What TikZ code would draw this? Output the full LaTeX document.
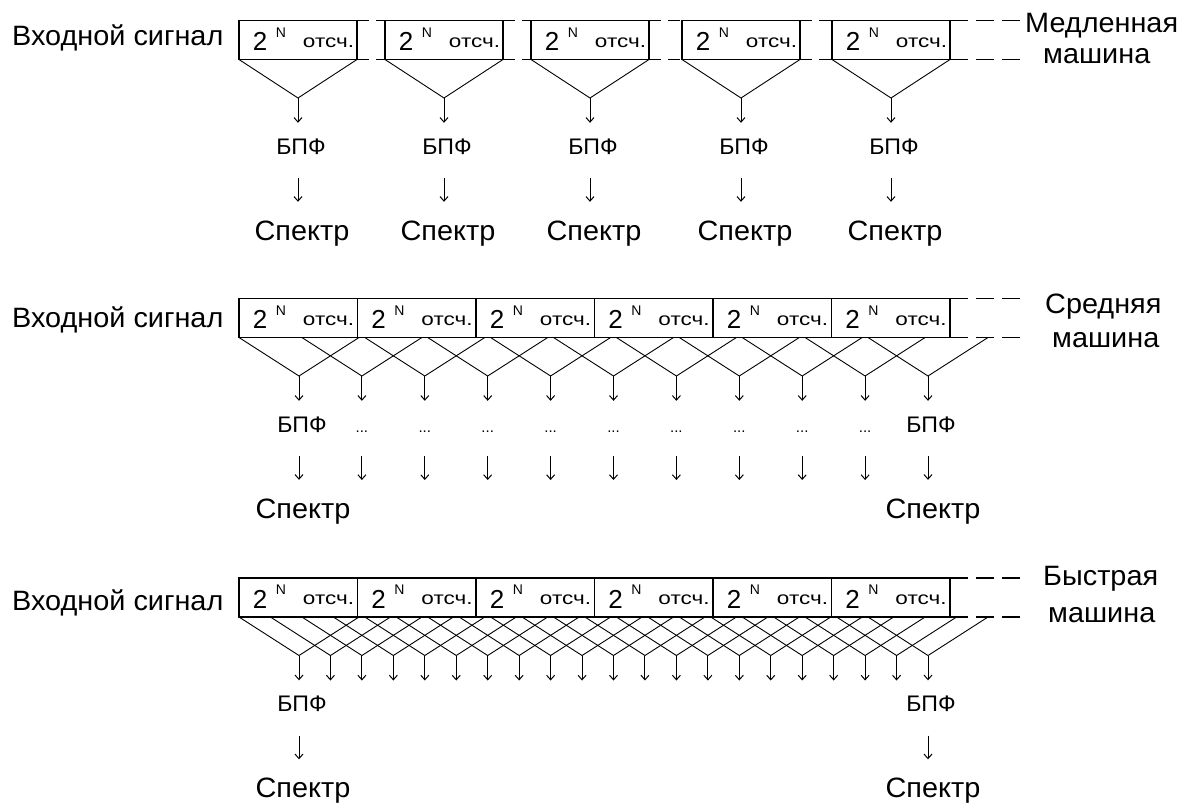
\documentclass[tikz,border=0pt]{standalone}
\usepackage{fontspec}
\setmainfont{Liberation Sans}
\newfontfamily\wfont[FakeStretch=1.03]{Liberation Sans}
\newfontfamily\xfont[FakeStretch=1.25]{Liberation Sans}
\usetikzlibrary{arrows.meta}

\tikzset{
  sbox/.style={draw, line width=1.6pt, inner sep=0, outer sep=0, minimum height=39pt, anchor=north west},
  vline/.style={line width=0.9pt},
  arr/.style={line width=1pt, -{Straight Barb[length=4.5pt,width=8pt]}},
  ext/.style={line width=1.6pt, dash pattern=on 18pt off 8pt},
  gapdash/.style={line width=1.6pt, dash pattern=on 12pt off 7pt},
  big/.style={font=\wfont\fontsize{28}{32}\selectfont, inner sep=0, anchor=base west},
  fft/.style={font=\wfont\fontsize{22.5}{26}\selectfont, inner sep=0, text height=16pt, text depth=0pt, anchor=base},
  dotsn/.style={font=\fontsize{15}{17}\selectfont, inner sep=0, text height=16pt, text depth=0pt, anchor=base},
  spec/.style={font=\wfont\fontsize{28}{32}\selectfont, inner sep=0, text height=20pt, text depth=5pt, anchor=base},
  two/.style={font=\fontsize{26}{30}\selectfont, inner sep=0, anchor=base},
  supN/.style={font=\fontsize{14}{16}\selectfont, inner sep=0, anchor=base},
  cnt/.style={font=\xfont\fontsize{18}{21}\selectfont, inner sep=0, anchor=base},
}

\newcommand\sampbox[4]{%
  \node[sbox, minimum width=#4pt] (#1) at (#2,#3) {};
  \node[two] (#1-d) at (#2+21,#3+30) {2};
  \node[supN] (#1-n) at (#2+42,#3+16.5) {N};
  \node[cnt] (#1-t) at (#2+89.5,#3+26.5) {отсч.};
}

\begin{document}
\begin{tikzpicture}[x=1pt,y=-1pt]
\useasboundingbox (0,0) rectangle (1189,804);

% ================= Row 1 : slow =================
\node[big] (in1) at (12,45) {Входной сигнал};
\foreach \i/\x in {1/239,2/385,3/531,4/682,5/832}{
  \sampbox{b1-\i}{\x}{20.5}{118}
  \coordinate (a1-\i) at (\x+59,98);
  \draw[vline] (b1-\i.south west) -- (a1-\i) -- (b1-\i.south east);
  \node[fft] (f1-\i) at (\x+62,154) {БПФ};
  \node[spec] (s1-\i) at (\x+63,240) {Спектр};
  \draw[arr, shorten >=15pt] (a1-\i) -- (f1-\i.north -| a1-\i);
  \draw[arr, shorten <=24pt, shorten >=18pt] (f1-\i.south -| a1-\i) -- (s1-\i.north -| a1-\i);
}
\foreach \i/\j in {1/2,2/3,3/4,4/5}{
  \draw[gapdash] (b1-\i.north east) -- (b1-\j.north west);
  \draw[gapdash] (b1-\i.south east) -- (b1-\j.south west);
}
\coordinate (e1t) at (1020,20.5);
\coordinate (e1b) at (1020,59.5);
\draw[ext] (b1-5.north east) -- (e1t);
\draw[ext] (b1-5.south east) -- (e1b);
\node[big] (m1a) at (1025,32.5) {Медленная};
\node[big] (m1b) at (1043,63) {машина};

% ================= Row 2 : medium =================
\node[big] (in2) at (12,327) {Входной сигнал};
\foreach \i in {0,...,5}{
  \sampbox{b2-\i}{239+118.5*\i}{298.5}{118.5}
}
\coordinate (e2t) at (1020,298.5);
\coordinate (e2b) at (1020,337.5);
\draw[ext] (b2-5.north east) -- (e2t);
\draw[ext] (b2-5.south east) -- (e2b);
\node[big] (m2a) at (1045,313) {Средняя};
\node[big] (m2b) at (1052,347) {машина};
\foreach \k in {0,...,10}{
  \coordinate (a2-\k) at (299+62.9*\k,376);
  \coordinate (l2-\k) at (239+62.9*\k,337.5);
  \coordinate (r2-\k) at (359+62.9*\k,337.5);
  \draw[vline] (l2-\k) -- (a2-\k) -- (r2-\k);
}
\node[fft] (f2-0) at (302,432) {БПФ};
\node[fft] (f2-10) at (931,432) {БПФ};
\foreach \k in {1,...,9}{
  \node[dotsn] (f2-\k) at (299+62.9*\k,432) {...};
  \coordinate (c2-\k) at (299+62.9*\k,498);
  \draw[arr, shorten >=15pt] (a2-\k) -- (f2-\k.north -| a2-\k);
  \draw[arr, shorten <=24pt, shorten >=18pt] (f2-\k.south -| a2-\k) -- (c2-\k);
}
\node[spec] (s2-0) at (303,518) {Спектр};
\node[spec] (s2-10) at (933,518) {Спектр};
\foreach \k in {0,10}{
  \draw[arr, shorten >=15pt] (a2-\k) -- (f2-\k.north -| a2-\k);
  \draw[arr, shorten <=24pt, shorten >=18pt] (f2-\k.south -| a2-\k) -- (s2-\k.north -| a2-\k);
}

% ================= Row 3 : fast =================
\node[big] (in3) at (12,610) {Входной сигнал};
\foreach \i in {0,...,5}{
  \sampbox{b3-\i}{239+118.5*\i}{578}{118.5}
}
\coordinate (e3t) at (1020,578);
\coordinate (e3b) at (1020,617);
\draw[ext] (b3-5.north east) -- (e3t);
\draw[ext] (b3-5.south east) -- (e3b);
\node[big] (m3a) at (1043,585) {Быстрая};
\node[big] (m3b) at (1048,622) {машина};
\foreach \k in {0,...,20}{
  \coordinate (a3-\k) at (299+31.45*\k,655.5);
  \coordinate (l3-\k) at (239+31.45*\k,617);
  \coordinate (r3-\k) at (359+31.45*\k,617);
  \draw[vline] (l3-\k) -- (a3-\k) -- (r3-\k);
}
\foreach \k in {1,...,19}{
  \coordinate (t3-\k) at (299+31.45*\k,680.5);
  \draw[arr] (a3-\k) -- (t3-\k);
}
\node[fft] (f3-0) at (302,711.5) {БПФ};
\node[fft] (f3-20) at (931,711.5) {БПФ};
\node[spec] (s3-0) at (303,797.5) {Спектр};
\node[spec] (s3-20) at (933,797.5) {Спектр};
\foreach \k in {0,20}{
  \draw[arr, shorten >=15pt] (a3-\k) -- (f3-\k.north -| a3-\k);
  \draw[arr, shorten <=24pt, shorten >=18pt] (f3-\k.south -| a3-\k) -- (s3-\k.north -| a3-\k);
}
\end{tikzpicture}
\end{document}
